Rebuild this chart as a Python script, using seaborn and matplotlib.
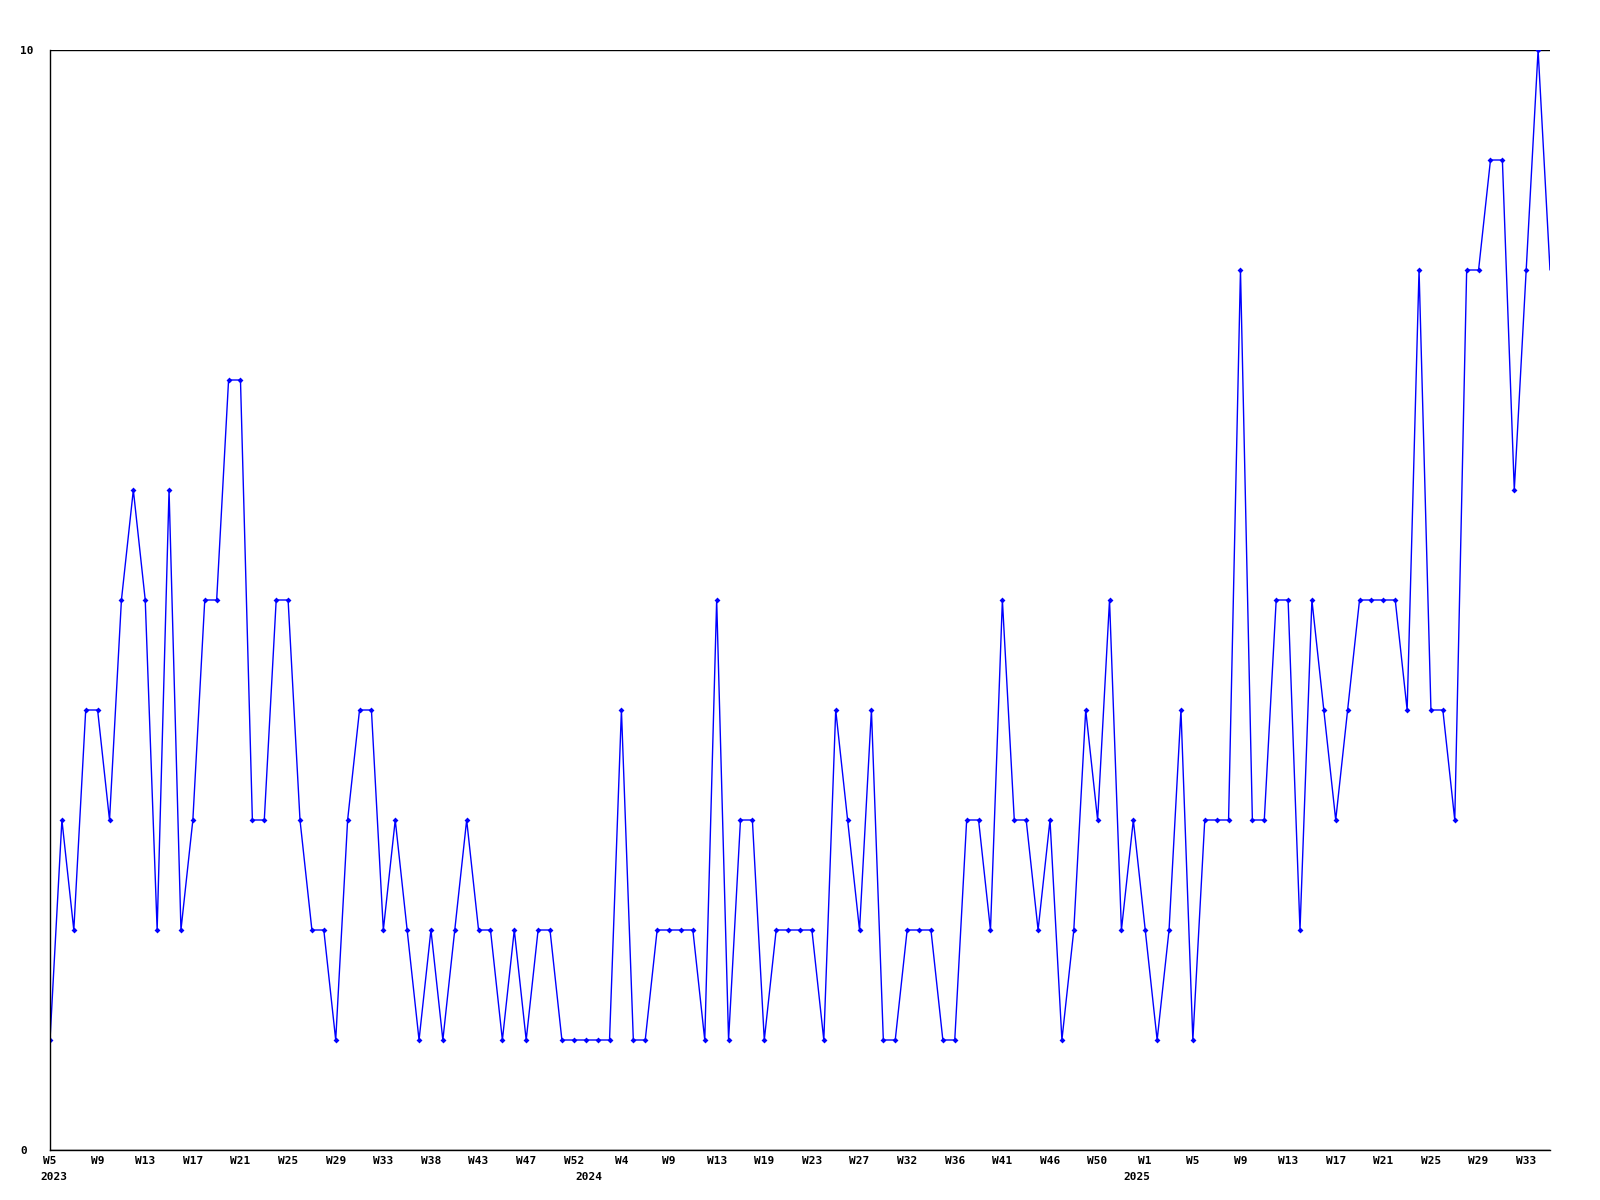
import numpy as np
import pandas as pd
import matplotlib
matplotlib.use("Agg")
import matplotlib.pyplot as plt
import matplotlib.transforms as mtransforms
import seaborn as sns

# weekly counts, one value per data point (weeks with data only)
counts = [
    1, 3, 2, 4, 4, 3, 5, 6, 5, 2, 6, 2, 3, 5, 5, 7, 7, 3, 3, 5,
    5, 3, 2, 2, 1, 3, 4, 4, 2, 3, 2, 1, 2, 1, 2, 3, 2, 2, 1, 2,
    1, 2, 2, 1, 1, 1, 1, 1, 4, 1, 1, 2, 2, 2, 2, 1, 5, 1, 3, 3,
    1, 2, 2, 2, 2, 1, 4, 3, 2, 4, 1, 1, 2, 2, 2, 1, 1, 3, 3, 2,
    5, 3, 3, 2, 3, 1, 2, 4, 3, 5, 2, 3, 2, 1, 2, 4, 1, 3, 3, 3,
    8, 3, 3, 5, 5, 2, 5, 4, 3, 4, 5, 5, 5, 5, 4, 8, 4, 4, 3, 8,
    8, 9, 9, 6, 8, 10, 8,
]

# labels shown on every 4th point
week_labels = [
    "W5", "W9", "W13", "W17", "W21", "W25", "W29", "W33", "W38", "W43",
    "W47", "W52", "W4", "W9", "W13", "W19", "W23", "W27", "W32", "W36",
    "W41", "W46", "W50", "W1", "W5", "W9", "W13", "W17", "W21", "W25",
    "W29", "W33",
]
label_step = 4

# year labels and the point index where each year starts
years = ["2023", "2024", "2025"]
year_start = [0, 45, 91]

df = pd.DataFrame({"idx": np.arange(len(counts)), "count": counts})

sns.set_theme(style="white")
plt.rcParams["font.family"] = ["DejaVu Sans Mono", "DejaVu Sans"]
plt.rcParams["font.weight"] = "bold"

fig = plt.figure(figsize=(16, 12), dpi=100)
ax = fig.add_axes([50 / 1600, 50 / 1200, 1500 / 1600, 1100 / 1200])

sns.lineplot(data=df, x="idx", y="count", ax=ax, color="#0000FF",
             linewidth=1.0, marker="D", markersize=3, markeredgewidth=0,
             markevery=list(range(len(counts) - 1)))

ax.set_xlim(0, len(counts) - 1)
ax.set_ylim(0, 10)

ax.set_xticks(np.arange(0, len(week_labels) * label_step, label_step))
ax.set_xticklabels(week_labels, fontsize=8, fontweight="bold")
ax.set_yticks([0, 10])
ax.set_yticklabels(["0", "10"], fontsize=8, fontweight="bold")
for lab in ax.get_yticklabels():
    lab.set_horizontalalignment("left")
shift = mtransforms.ScaledTranslation(-2 / 100, 0, fig.dpi_scale_trans)
for lab in ax.get_xticklabels():
    lab.set_transform(lab.get_transform() + shift)
ax.tick_params(axis="x", length=0, pad=4, colors="black")
ax.tick_params(axis="y", length=0, pad=21.5, colors="black")

ax.yaxis.grid(True, color="black", linewidth=1.0)
ax.xaxis.grid(False)
for side in ["top", "right"]:
    ax.spines[side].set_visible(False)
for side in ["left", "bottom"]:
    ax.spines[side].set_color("black")
    ax.spines[side].set_linewidth(1.0)

ax.set_xlabel("")
ax.set_ylabel("")

trans = mtransforms.blended_transform_factory(ax.transData, ax.transAxes)
for yr, pos in zip(years, year_start):
    ax.text(pos + 0.3, -0.0245, yr, transform=trans, ha="center", va="center",
            fontsize=8, fontweight="bold", color="black")

plt.savefig("out.png", dpi=100)
plt.close()
